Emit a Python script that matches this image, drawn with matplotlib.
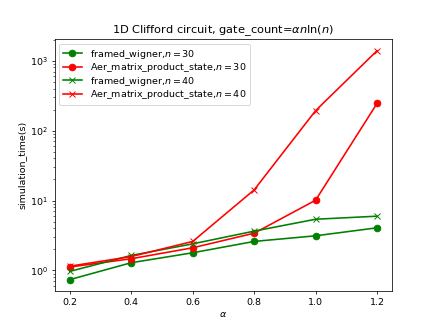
import matplotlib
matplotlib.use("Agg")
import matplotlib.pyplot as plt

alphas = [0.2, 0.4, 0.6, 0.8, 1.0, 1.2]

fw_30 = [0.74, 1.29, 1.79, 2.6, 3.13, 4.07]
aer_30 = [1.12, 1.47, 2.11, 3.41, 10.1, 245]
fw_40 = [0.97, 1.64, 2.4, 3.65, 5.4, 5.97]
aer_40 = [1.15, 1.58, 2.6, 14.2, 193, 1390]

plt.figure(figsize=(6.4, 4.8))

style = dict(linewidth=1.7, markersize=7)
plt.plot(alphas, fw_30, marker="o", color="green", label="framed_wigner,$n=30$", **style)
plt.plot(alphas, aer_30, marker="o", color="red", label="Aer_matrix_product_state,$n=30$", **style)
plt.plot(alphas, fw_40, marker="x", color="green", label="framed_wigner,$n=40$", **style)
plt.plot(alphas, aer_40, marker="x", color="red", label="Aer_matrix_product_state,$n=40$", **style)

plt.yscale("log")
plt.xlabel(r"$\alpha$")
plt.ylabel("simulation_time(s)")
plt.title(r"1D Clifford circuit, gate_count=$\alpha n\ln(n)$")
plt.legend(loc="upper left", labelspacing=0.05)

plt.savefig("out.png", dpi=436 / 6.4)
